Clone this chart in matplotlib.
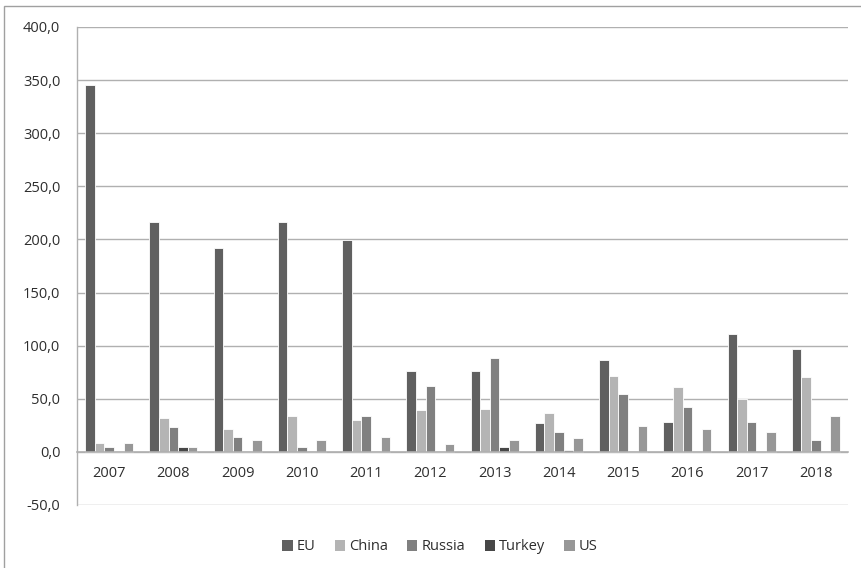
import matplotlib
matplotlib.use("Agg")
import matplotlib.pyplot as plt
import numpy as np
from matplotlib.patches import Rectangle

years = ["2007", "2008", "2009", "2010", "2011", "2012",
         "2013", "2014", "2015", "2016", "2017", "2018"]
eu = [345.0, 216.5, 192.0, 216.5, 199.5, 76.0, 76.0, 27.0, 86.5, 28.5, 111.0, 97.0]
china = [8.5, 31.5, 22.0, 34.0, 30.0, 39.5, 40.5, 37.0, 71.5, 61.0, 49.5, 70.5]
russia = [4.5, 23.5, 14.0, 4.5, 34.0, 62.0, 88.0, 19.0, 54.5, 42.0, 28.5, 11.0]
turkey = [0.0, 4.5, 0.0, 0.0, 0.0, 0.0, 5.0, 2.0, 0.0, -1.5, -1.5, 0.0]
us = [8.5, 4.5, 11.0, 11.0, 14.0, 7.0, 11.5, 13.5, 24.5, 22.0, 19.0, 33.5]

series = [("EU", eu, "#606060"),
          ("China", china, "#b4b4b4"),
          ("Russia", russia, "#808080"),
          ("Turkey", turkey, "#474747"),
          ("US", us, "#979797")]

y_ticks = [-50, 0, 50, 100, 150, 200, 250, 300, 350, 400]
y_labels = [f"{v:.1f}".replace(".", ",") for v in y_ticks]

plt.rcParams["font.family"] = ["Open Sans", "DejaVu Sans"]
text_color = "#2e2e2e"
grid_color = "#b0b0b0"

W, H = 862, 568
fig = plt.figure(figsize=(W / 100, H / 100), dpi=100)
ax = fig.add_axes([77 / W, (H - 505) / H, (848 - 77) / W, (505 - 27) / H])

x = np.arange(len(years))
slot = 0.15
for i, (name, vals, col) in enumerate(series):
    ax.bar(x + (i - 2) * slot, vals, width=slot, color=col,
           edgecolor="white", linewidth=0.6, label=name, zorder=3)

ax.set_xlim(-0.5, len(years) - 0.5)
ax.set_ylim(-50, 400)
ax.set_yticks(y_ticks)
ax.set_yticklabels(y_labels)
ax.yaxis.grid(True, color=grid_color, linewidth=1.0, zorder=0)
ax.set_axisbelow(True)

ax.set_xticks(x)
ax.set_xticklabels(years)
ax.spines["bottom"].set_position(("data", 0))
ax.spines["bottom"].set_color(grid_color)
ax.spines["bottom"].set_linewidth(1.2)
ax.spines["bottom"].set_zorder(4)
ax.spines["top"].set_visible(False)
ax.spines["right"].set_visible(False)
ax.spines["left"].set_color(grid_color)
ax.spines["left"].set_linewidth(1.0)
ax.tick_params(axis="x", length=0, pad=10, labelsize=10.5, labelcolor=text_color)
ax.tick_params(axis="y", length=0, pad=12, labelsize=10.5, labelcolor=text_color)

leg = fig.legend(loc="center", bbox_to_anchor=(440 / W, 1 - 547 / H), ncol=5,
                 frameon=False, fontsize=10.5, handlelength=0.7, handleheight=0.7,
                 handletextpad=0.3, columnspacing=1.3, labelcolor=text_color)
for h in leg.legend_handles:
    h.set_edgecolor("none")

# Chart-area border
fig.patches.append(Rectangle((4 / W, -0.1), 1.2, 1 - 6.5 / H + 0.1,
                             transform=fig.transFigure, fill=False,
                             edgecolor="#a0a0a0", linewidth=1.0))

fig.savefig("out.png", dpi=100)
